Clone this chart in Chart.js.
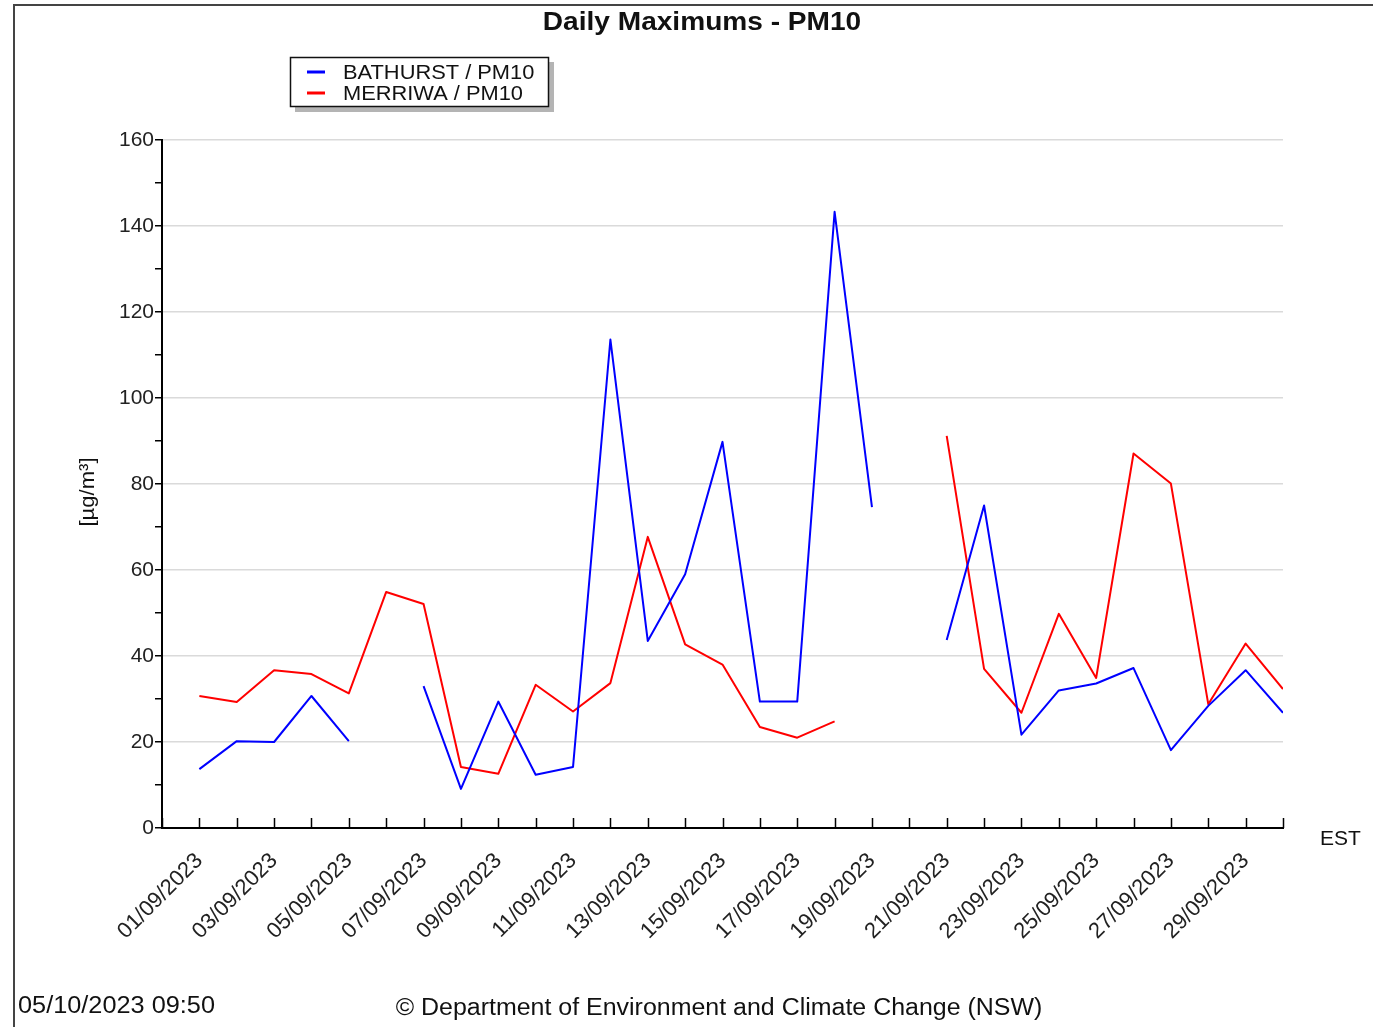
<!DOCTYPE html>
<html>
<head>
<meta charset="utf-8">
<script src="https://cdn.jsdelivr.net/npm/chart.js@4.4.0/dist/chart.umd.min.js"></script>
<style>
  html, body { margin: 0; padding: 0; background: #fff; }
  #wrap { width: 1373px; height: 1027px; }
</style>
</head>
<body>
<div id="wrap"><canvas id="myChart" width="1373" height="1027"></canvas></div>
<script>
'use strict';
{
  // dates on the x axis (day 1 .. 30)
  var days = ['01/09/2023', '02/09/2023', '03/09/2023', '04/09/2023', '05/09/2023', '06/09/2023',
    '07/09/2023', '08/09/2023', '09/09/2023', '10/09/2023', '11/09/2023', '12/09/2023',
    '13/09/2023', '14/09/2023', '15/09/2023', '16/09/2023', '17/09/2023', '18/09/2023',
    '19/09/2023', '20/09/2023', '21/09/2023', '22/09/2023', '23/09/2023', '24/09/2023',
    '25/09/2023', '26/09/2023', '27/09/2023', '28/09/2023', '29/09/2023', '30/09/2023'];

  var bathurst = [13.7, 20.2, 20.0, 30.7, 20.2, null, 33.0, 9.1, 29.4, 12.4, 14.2, 113.6,
    43.5, 59.0, 89.8, 29.4, 29.4, 143.3, 74.6, null, 43.7, 75.0, 21.7, 32.0, 33.6, 37.2,
    18.1, 28.4, 36.7, 26.8];
  var merriwa = [30.7, 29.3, 36.7, 35.8, 31.3, 54.9, 52.1, 14.2, 12.6, 33.3, 27.1, 33.7,
    67.7, 42.7, 38.0, 23.5, 21.0, 24.8, null, null, 91.2, 37.0, 26.8, 49.8, 34.9, 87.1,
    80.1, 28.8, 42.9, 32.3];

  var yTicks = [0, 20, 40, 60, 80, 100, 120, 140, 160];

  var FONT = "'Liberation Sans', Arial, sans-serif";
  Chart.defaults.font.family = FONT;
  Chart.defaults.color = '#222';

  function toPoints(arr) {
    return arr.map(function (v, i) { return { x: i + 1, y: v }; });
  }

  // text a little wider than the font gives (the reference is stretched)
  function wideText(c, text, x, y, sx) {
    c.save();
    c.translate(x, y);
    c.scale(sx, 1);
    c.fillText(text, 0, 0);
    c.restore();
  }

  // frame, title, legend box, footer texts, inward x ticks
  var decorations = {
    id: 'decorations',
    afterDraw: function (chart) {
      var c = chart.ctx;
      var area = chart.chartArea;
      var xs = chart.scales.x;

      c.save();
      // outer frame (top + left edges visible)
      c.strokeStyle = '#444';
      c.lineWidth = 2;
      c.beginPath();
      c.moveTo(14, 1027);
      c.lineTo(14, 5);
      c.lineTo(1373, 5);
      c.stroke();

      // inward ticks on x axis
      c.strokeStyle = '#000';
      c.lineWidth = 1.5;
      c.beginPath();
      for (var d = 0; d <= days.length; d++) {
        var px = Math.round(xs.getPixelForValue(d)) + 0.5;
        c.moveTo(px, area.bottom);
        c.lineTo(px, area.bottom - 10);
      }
      c.stroke();

      // title
      c.fillStyle = '#111';
      c.textAlign = 'center';
      c.textBaseline = 'middle';
      c.font = 'bold 26px ' + FONT;
      wideText(c, 'Daily Maximums - PM10', 702, 23, 1.08);

      // legend box with shadow
      c.fillStyle = '#b4b4b4';
      c.fillRect(295, 62, 259, 50);
      c.fillStyle = '#fff';
      c.fillRect(290, 57, 259, 50);
      c.strokeStyle = '#111';
      c.lineWidth = 1.5;
      c.strokeRect(290.5, 57.5, 258, 49);
      c.font = '21px ' + FONT;
      c.textAlign = 'left';
      chart.data.datasets.forEach(function (ds, i) {
        var ly = 72 + i * 21;
        c.strokeStyle = ds.borderColor;
        c.lineWidth = 3;
        c.beginPath();
        c.moveTo(307, ly);
        c.lineTo(325, ly);
        c.stroke();
        c.fillStyle = '#111';
        wideText(c, ds.label, 343, ly + 1, 1.04);
      });

      // y axis title
      c.save();
      c.translate(88, 492);
      c.rotate(-Math.PI / 2);
      c.textAlign = 'center';
      wideText(c, '[µg/m³]', 0, 0, 1.05);
      c.restore();

      // EST
      c.fillText('EST', 1320, 839);

      // footer
      c.font = '23px ' + FONT;
      wideText(c, '05/10/2023 09:50', 18, 1007, 1.1);
      c.textAlign = 'center';
      wideText(c, '© Department of Environment and Climate Change (NSW)', 719, 1009, 1.085);
      c.restore();
    }
  };

  var ctx = document.getElementById('myChart').getContext('2d');

  var myLineChart = new Chart(ctx, {
    type: 'line',
    data: {
      datasets: [{
        label: 'BATHURST / PM10',
        data: toPoints(bathurst),
        borderColor: '#0000ff',
        backgroundColor: '#0000ff',
        borderWidth: 2,
        borderJoinStyle: 'round',
        pointRadius: 0,
        pointHoverRadius: 0,
        tension: 0,
        spanGaps: false,
      }, {
        label: 'MERRIWA / PM10',
        data: toPoints(merriwa),
        borderColor: '#ff0000',
        backgroundColor: '#ff0000',
        borderWidth: 2,
        borderJoinStyle: 'round',
        pointRadius: 0,
        pointHoverRadius: 0,
        tension: 0,
        spanGaps: false,
      }],
    },
    options: {
      responsive: false,
      animation: false,
      devicePixelRatio: 1,
      layout: {
        padding: { top: 140, right: 90, left: 0, bottom: 0 }
      },
      plugins: {
        legend: { display: false },
        title: { display: false },
        tooltip: { enabled: false },
      },
      scales: {
        x: {
          type: 'linear',
          min: 0,
          max: 30,
          afterFit: function (scale) { scale.height = 199; },
          grid: { display: false },
          border: { display: true, color: '#000', width: 2 },
          ticks: {
            stepSize: 1,
            autoSkip: false,
            minRotation: 45,
            maxRotation: 45,
            padding: 12,
            color: '#222',
            font: { size: 22 },
            callback: function (value) {
              return (value >= 1 && value % 2 === 1) ? days[value - 1] : '';
            }
          }
        },
        y: {
          min: yTicks[0],
          max: yTicks[yTicks.length - 1],
          afterFit: function (scale) { scale.width = 162; },
          grid: {
            drawTicks: true,
            tickLength: 7,
            tickColor: '#000',
            tickWidth: 1.5,
            lineWidth: 1.5,
            color: function (c) {
              return (c.tick && yTicks.indexOf(c.tick.value) > 0) ? '#dadada' : 'rgba(0,0,0,0)';
            }
          },
          border: { display: true, color: '#000', width: 2 },
          ticks: {
            stepSize: 10,
            padding: 1,
            color: '#222',
            font: { size: 21 },
            callback: function (value) {
              return yTicks.indexOf(value) >= 0 ? value : '';
            }
          }
        }
      }
    },
    plugins: [decorations]
  });
}
</script>
</body>
</html>
